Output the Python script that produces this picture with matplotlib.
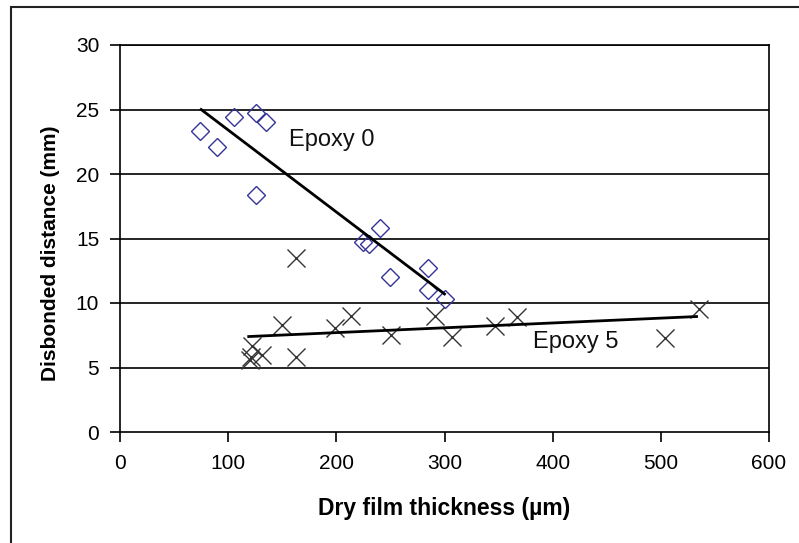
import matplotlib
matplotlib.use("Agg")
import matplotlib.pyplot as plt
from matplotlib.patches import Rectangle

plt.rcParams['font.family'] = ['Liberation Sans', 'DejaVu Sans']

# Epoxy 0 data (diamonds)
e0_x = [74, 90, 105, 126, 135, 126, 225, 230, 240, 250, 285, 285, 300]
e0_y = [23.3, 22.1, 24.4, 24.7, 24.0, 18.4, 14.7, 14.6, 15.8, 12.0, 12.7, 11.0, 10.3]
# Epoxy 5 data (crosses)
e5_x = [120, 121, 122, 131, 163, 150, 199, 214, 163, 251, 291, 307, 347, 367, 504, 535]
e5_y = [5.6, 5.8, 6.7, 6.0, 5.8, 8.3, 8.1, 9.0, 13.5, 7.5, 9.0, 7.4, 8.2, 8.9, 7.3, 9.5]
# Trend lines
e0_fit_x = [75, 300]
e0_fit_y = [25.0, 10.7]
e5_fit_x = [119, 533]
e5_fit_y = [7.4, 8.95]

xticks = [0, 100, 200, 300, 400, 500, 600]
yticks = [0, 5, 10, 15, 20, 25, 30]

fig = plt.figure(figsize=(7.99, 5.43), dpi=100)
fig.patches.append(Rectangle((11/799, -0.2), 1.2, 1.2 - 7/543, transform=fig.transFigure,
                             fill=False, edgecolor='#222222', linewidth=1.5))
ax = fig.add_axes([120/799, 1 - 432/543, (769 - 120)/799, (432 - 45)/543])

for y in yticks[1:]:
    ax.axhline(y, color='black', lw=1.2, zorder=1)

ax.plot(e0_x, e0_y, linestyle='none', marker='D', ms=9.5, mfc='none',
        mec='#33339a', mew=1.0, zorder=3)
ax.plot(e5_x, e5_y, linestyle='none', marker='x', ms=13, mec='#333333',
        mew=1.0, zorder=3)
ax.plot(e0_fit_x, e0_fit_y, color='black', lw=2, zorder=4)
ax.plot(e5_fit_x, e5_fit_y, color='black', lw=2, zorder=4)

ax.text(156, 22.6, 'Epoxy 0', fontsize=17, va='center', ha='left', color='#111111')
ax.text(382, 7.0, 'Epoxy 5', fontsize=17, va='center', ha='left', color='#111111')

ax.set_xlim(0, 600)
ax.set_ylim(0, 30)
ax.set_xticks(xticks)
ax.set_yticks(yticks)
ax.tick_params(axis='both', direction='out', length=7, width=1.2, labelsize=15,
               color='black')
ax.tick_params(axis='x', pad=9)
ax.tick_params(axis='y', pad=8)
for s in ax.spines.values():
    s.set_linewidth(1.2)
    s.set_color('black')
ax.set_xlabel('Dry film thickness (µm)', fontsize=16.5, fontweight='bold')
ax.set_ylabel('Disbonded distance (mm)', fontsize=15, fontweight='bold')
ax.xaxis.set_label_coords(0.5, (432 - 508) / 387)
ax.xaxis.label.set_va('center')
ax.yaxis.set_label_coords((50 - 120) / 649, (432 - 253) / 387)
ax.yaxis.label.set_va('center')

fig.savefig('out.png', dpi=100)
